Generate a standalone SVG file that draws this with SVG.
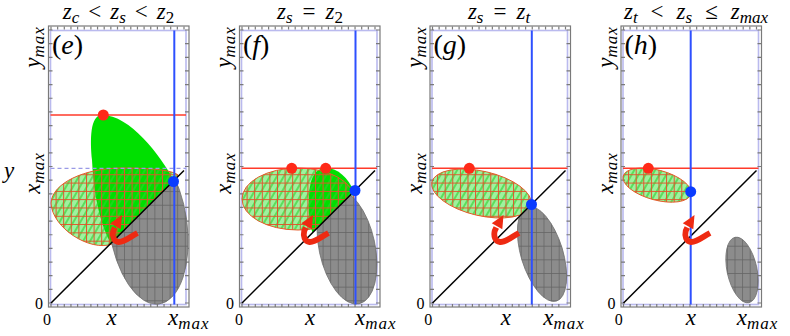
<svg xmlns="http://www.w3.org/2000/svg" width="790" height="336" viewBox="0 0 790 336">
<style>
.frame{fill:none;stroke:#7a7a7a;stroke-width:1.2}
.pr{fill:none;stroke:#babaee;stroke-width:1.6}
.diag{stroke:#000;stroke-width:1.5}
.rl{stroke:#ff3a2a;stroke-width:1.5}
.bl{stroke:#2e50ff;stroke-width:2}
.dash{stroke:#9a9ae6;stroke-width:1.2;stroke-dasharray:4 3}
.tall{fill:#00e000}
.hf{fill:#00dd00;fill-opacity:0.38}
.hd{fill:url(#gdiag)}
.hg{fill:url(#rgrid);stroke:#e65a2a;stroke-width:1}
.gray{fill:#8c8c8c}
.gg{fill:url(#ggrid);stroke:#6e6e6e;stroke-width:0.8}
.rd{fill:#ff2a18}
.bd{fill:#0a3cff}
.arr{fill:none;stroke:#ee2a12;stroke-width:5.8}
.arh{fill:#ee2a12}
text{font-family:'Liberation Serif','Times New Roman',serif;fill:#000}
.v{font-style:italic;font-size:23px}
.n{font-style:normal}
.s{font-size:17px}
.num{font-size:16px;font-style:normal}
.lab{font-size:28px}
</style>
<defs>
<pattern id="rgrid" patternUnits="userSpaceOnUse" width="7.6" height="8.3">
<path d="M0.5,0V8.3M0,0.5H7.6" stroke="#e0552a" stroke-width="1" fill="none"/>
</pattern>
<pattern id="gdiag" patternUnits="userSpaceOnUse" width="6" height="6" patternTransform="rotate(30)">
<path d="M1,0V6" stroke="#2fd02f" stroke-width="1.2" fill="none"/>
</pattern>
<pattern id="ggrid" patternUnits="userSpaceOnUse" width="7.6" height="13.65">
<path d="M0.5,0V13.65M0,0.5H7.6" stroke="#666" stroke-width="0.8" fill="none"/>
</pattern>
<clipPath id="below"><polygon points="-97,402.6 236,70.9 300,70.9 300,403"/></clipPath>
<g id="frame">
<rect class="pr" x="2.5" y="30.5" width="135.5" height="274"/>
<rect class="frame" x="0.5" y="26" width="140.5" height="281"/>
<path class="frame" d="M3 307v-3m6.65 3v-3m6.65 3v-3m6.65 3v-3m6.65 3v-3m6.65 3v-3m6.65 3v-3m6.65 3v-3m6.65 3v-3m6.65 3v-3m6.65 3v-3m6.65 3v-3m6.65 3v-3m6.65 3v-3m6.65 3v-3m6.65 3v-3m6.65 3v-3m6.65 3v-3m6.65 3v-3m6.65 3v-3M3 26.5v3m6.65 -3v3m6.65 -3v3m6.65 -3v3m6.65 -3v3m6.65 -3v3m6.65 -3v3m6.65 -3v3m6.65 -3v3m6.65 -3v3m6.65 -3v3m6.65 -3v3m6.65 -3v3m6.65 -3v3m6.65 -3v3m6.65 -3v3m6.65 -3v3m6.65 -3v3m6.65 -3v3m6.65 -3v3m6.65 -3v3M0.5 303h4m-4 -13.65h4m-4 -13.65h4m-4 -13.65h4m-4 -13.65h4m-4 -13.65h4m-4 -13.65h4m-4 -13.65h4m-4 -13.65h4m-4 -13.65h4m-4 -13.65h4m-4 -13.65h4m-4 -13.65h4m-4 -13.65h4m-4 -13.65h4m-4 -13.65h4m-4 -13.65h4m-4 -13.65h4m-4 -13.65h4m-4 -13.65h4m-4 -13.65h4M141 303h-4m4 -13.65h-4m4 -13.65h-4m4 -13.65h-4m4 -13.65h-4m4 -13.65h-4m4 -13.65h-4m4 -13.65h-4m4 -13.65h-4m4 -13.65h-4m4 -13.65h-4m4 -13.65h-4m4 -13.65h-4m4 -13.65h-4m4 -13.65h-4m4 -13.65h-4m4 -13.65h-4m4 -13.65h-4m4 -13.65h-4m4 -13.65h-4m4 -13.65h-4"/>
</g>
<line id="diag" class="diag" x1="3" y1="303" x2="136" y2="170.5"/>
<g id="arrow">
<path class="arr" d="M89.5,233 C82,237 76,242.5 70.5,242 C65.5,241.5 64,236 65.2,231 L66.8,227.5"/>
<polygon class="arh" points="74,215 62.3,223.3 72.8,229.2"/>
</g>
</defs>
<rect width="790" height="336" fill="#fff"/>

<g id="panel-e" transform="translate(48,0)">
<use href="#frame"/>
<path class="tall" d="M126,180.5 C112,155 82,115 54,115 C42,115 42,140 44,160 C46,200 54,228 63,243.2 Z"/>
<path class="hf" d="M3,203 C4,183 37,168 74,168 C102,168 124,170 130,175 C122,185 87,228 64,244 C42,252 4,228 3,203 Z"/>
<path class="hd" d="M3,203 C4,183 37,168 74,168 C102,168 124,170 130,175 C122,185 87,228 64,244 C42,252 4,228 3,203 Z"/>
<path class="hg" d="M3,203 C4,183 37,168 74,168 C102,168 124,170 130,175 C122,185 87,228 64,244 C42,252 4,228 3,203 Z"/>
<g clip-path="url(#below)">
<path class="gray" d="M138.62,219.57A39 80 -8 0 1 61.38,230.43A39 80 -8 0 1 138.62,219.57Z"/>
<path class="gg" d="M138.62,219.57A39 80 -8 0 1 61.38,230.43A39 80 -8 0 1 138.62,219.57Z"/>
</g>
<use href="#diag"/>
<line class="dash" x1="2.5" y1="168.3" x2="138" y2="168.3"/>
<line class="rl" x1="2.5" y1="115" x2="138" y2="115"/>
<line class="bl" x1="126.3" y1="30.5" x2="126.3" y2="304.5"/>
<use href="#arrow"/>
<circle class="rd" cx="55.3" cy="115" r="5.5"/>
<circle class="bd" cx="125.5" cy="181.5" r="5.5"/>
<text class="v" x="70.5" y="18.5" text-anchor="middle">z<tspan class="s" dy="4">c</tspan><tspan class="n" dx="9" dy="-4">&lt;</tspan><tspan dx="9">z</tspan><tspan class="s" dy="4">s</tspan><tspan class="n" dx="9" dy="-4">&lt;</tspan><tspan dx="9">z</tspan><tspan class="s n" dy="4">2</tspan></text>
<text class="v lab" x="4" y="54"><tspan class="n">(</tspan>e<tspan class="n">)</tspan></text>
<text class="num" x="-1" y="325" text-anchor="middle">0</text>
<text class="v" x="63.7" y="325" text-anchor="middle">x</text>
<text class="v" x="120" y="325">x<tspan class="s" dy="4" letter-spacing="1">max</tspan></text>
<text class="num" x="-5" y="308.5" text-anchor="end">0</text>
<text class="v" transform="translate(-8,47) rotate(-90)" text-anchor="middle">y<tspan class="s" dy="4" letter-spacing="1">max</tspan></text>
<text class="v" transform="translate(-8,173) rotate(-90)" text-anchor="middle">x<tspan class="s" dy="4" letter-spacing="1">max</tspan></text>
<text class="v" x="-44" y="178">y</text>
</g>

<g id="panel-f" transform="translate(239,0)">
<use href="#frame"/>
<path class="tall" d="M115,191.4 C109,178 99,168 87,168 C75,168 71,180 70,195 C69,210 70,222 73.5,232.8 Z"/>
<ellipse class="hf" cx="59" cy="199" rx="56" ry="31"/>
<ellipse class="hd" cx="59" cy="199" rx="56" ry="31"/>
<ellipse class="hg" cx="59" cy="199" rx="56" ry="31"/>
<g clip-path="url(#below)">
<path class="gray" d="M135.39,241.18A28 58 -12 0 1 80.61,252.82A28 58 -12 0 1 135.39,241.18Z"/>
<path class="gg" d="M135.39,241.18A28 58 -12 0 1 80.61,252.82A28 58 -12 0 1 135.39,241.18Z"/>
</g>
<use href="#diag"/>
<line class="rl" x1="2.5" y1="168.3" x2="138" y2="168.3"/>
<line class="bl" x1="116.5" y1="30.5" x2="116.5" y2="304.5"/>
<use href="#arrow"/>
<circle class="rd" cx="52.7" cy="168.3" r="5.5"/>
<circle class="rd" cx="86.7" cy="168.3" r="5.5"/>
<circle class="bd" cx="116" cy="190.5" r="5.5"/>
<text class="v" x="71" y="18.5" text-anchor="middle">z<tspan class="s" dy="4">s</tspan><tspan class="n" dx="10" dy="-4">=</tspan><tspan dx="10">z</tspan><tspan class="s n" dy="4">2</tspan></text>
<text class="v lab" x="4" y="54"><tspan class="n">(</tspan>f<tspan class="n">)</tspan></text>
<text class="num" x="0" y="325" text-anchor="middle">0</text>
<text class="v" x="71" y="325" text-anchor="middle">x</text>
<text class="v" x="116" y="325">x<tspan class="s" dy="4" letter-spacing="1">max</tspan></text>
<text class="num" x="-5" y="308.5" text-anchor="end">0</text>
<text class="v" transform="translate(-8,47) rotate(-90)" text-anchor="middle">y<tspan class="s" dy="4" letter-spacing="1">max</tspan></text>
<text class="v" transform="translate(-8,173) rotate(-90)" text-anchor="middle">x<tspan class="s" dy="4" letter-spacing="1">max</tspan></text>
</g>

<g id="panel-g" transform="translate(429.5,0)">
<use href="#frame"/>
<path class="hf" d="M101.69,204.97A51 22.5 13 0 1 2.31,182.03A51 22.5 13 0 1 101.69,204.97Z"/>
<path class="hd" d="M101.69,204.97A51 22.5 13 0 1 2.31,182.03A51 22.5 13 0 1 101.69,204.97Z"/>
<path class="hg" d="M101.69,204.97A51 22.5 13 0 1 2.31,182.03A51 22.5 13 0 1 101.69,204.97Z"/>
<g clip-path="url(#below)">
<path class="gray" d="M132.58,247.86A21 50 -17 0 1 92.42,260.14A21 50 -17 0 1 132.58,247.86Z"/>
<path class="gg" d="M132.58,247.86A21 50 -17 0 1 92.42,260.14A21 50 -17 0 1 132.58,247.86Z"/>
</g>
<use href="#diag"/>
<line class="rl" x1="2.5" y1="168.3" x2="138" y2="168.3"/>
<line class="bl" x1="102.3" y1="30.5" x2="102.3" y2="304.5"/>
<use href="#arrow"/>
<circle class="rd" cx="39.8" cy="168.3" r="5.5"/>
<circle class="bd" cx="102" cy="204.5" r="5.5"/>
<text class="v" x="69.5" y="18.5" text-anchor="middle">z<tspan class="s" dy="4">s</tspan><tspan class="n" dx="10" dy="-4">=</tspan><tspan dx="10">z</tspan><tspan class="s" dy="4">t</tspan></text>
<text class="v lab" x="4" y="54"><tspan class="n">(</tspan>g<tspan class="n">)</tspan></text>
<text class="num" x="-1.2" y="325" text-anchor="middle">0</text>
<text class="v" x="76.3" y="325" text-anchor="middle">x</text>
<text class="v" x="113.8" y="325">x<tspan class="s" dy="4" letter-spacing="1">max</tspan></text>
<text class="num" x="-5" y="308.5" text-anchor="end">0</text>
<text class="v" transform="translate(-8,47) rotate(-90)" text-anchor="middle">y<tspan class="s" dy="4" letter-spacing="1">max</tspan></text>
<text class="v" transform="translate(-8,173) rotate(-90)" text-anchor="middle">x<tspan class="s" dy="4" letter-spacing="1">max</tspan></text>
</g>

<g id="panel-h" transform="translate(620.5,0)">
<use href="#frame"/>
<path class="hf" d="M70.31,194.16A35 15 15 0 1 2.69,176.04A35 15 15 0 1 70.31,194.16Z"/>
<path class="hd" d="M70.31,194.16A35 15 15 0 1 2.69,176.04A35 15 15 0 1 70.31,194.16Z"/>
<path class="hg" d="M70.31,194.16A35 15 15 0 1 2.69,176.04A35 15 15 0 1 70.31,194.16Z"/>
<path class="gray" d="M136.17,266.88A15 34 -12 0 1 106.83,273.12A15 34 -12 0 1 136.17,266.88Z"/>
<path class="gg" d="M136.17,266.88A15 34 -12 0 1 106.83,273.12A15 34 -12 0 1 136.17,266.88Z"/>
<use href="#diag"/>
<line class="rl" x1="2.5" y1="168.3" x2="138" y2="168.3"/>
<line class="bl" x1="70.2" y1="30.5" x2="70.2" y2="304.5"/>
<use href="#arrow"/>
<circle class="rd" cx="27.8" cy="168.3" r="5.5"/>
<circle class="bd" cx="70.2" cy="191.7" r="5.5"/>
<text class="v" x="75.5" y="18.5" text-anchor="middle">z<tspan class="s" dy="4">t</tspan><tspan class="n" dx="13" dy="-4">&lt;</tspan><tspan dx="13">z</tspan><tspan class="s" dy="4">s</tspan><tspan class="n" dx="13" dy="-4">&#8804;</tspan><tspan dx="13">z</tspan><tspan class="s" dy="4">max</tspan></text>
<text class="v lab" x="4" y="54"><tspan class="n">(</tspan>h<tspan class="n">)</tspan></text>
<text class="num" x="-1.8" y="325" text-anchor="middle">0</text>
<text class="v" x="70.3" y="325" text-anchor="middle">x</text>
<text class="v" x="116.2" y="325">x<tspan class="s" dy="4" letter-spacing="1">max</tspan></text>
<text class="num" x="-5" y="308.5" text-anchor="end">0</text>
<text class="v" transform="translate(-8,47) rotate(-90)" text-anchor="middle">y<tspan class="s" dy="4" letter-spacing="1">max</tspan></text>
<text class="v" transform="translate(-8,173) rotate(-90)" text-anchor="middle">x<tspan class="s" dy="4" letter-spacing="1">max</tspan></text>
</g>
</svg>
